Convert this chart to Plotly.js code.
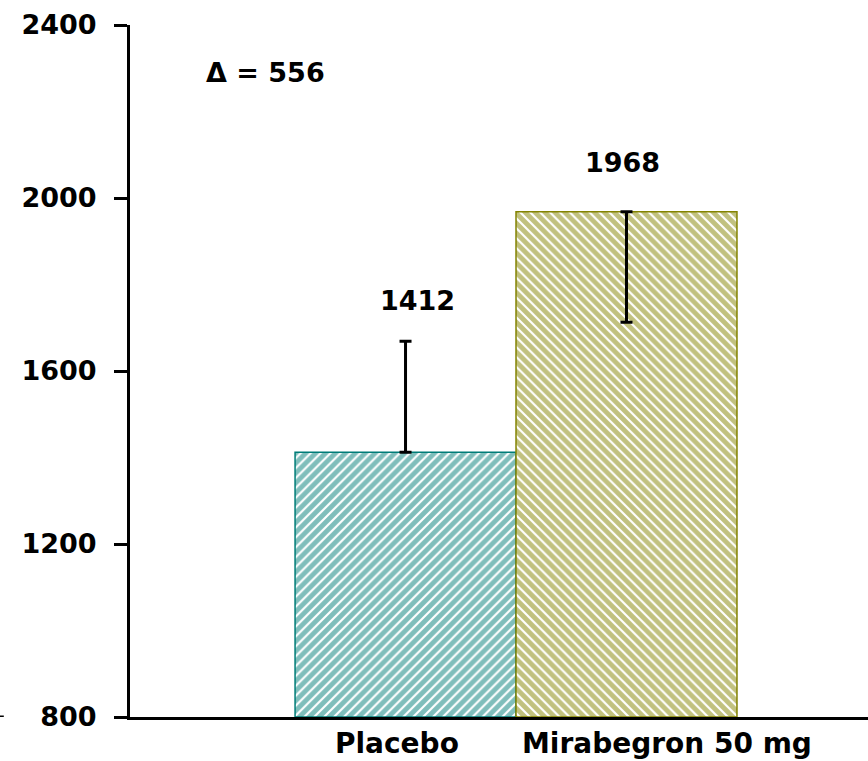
<!DOCTYPE html>
<html>
<head>
<meta charset="utf-8">
<script src="https://cdn.plot.ly/plotly-3.0.1.min.js"></script>
<style>html,body{margin:0;padding:0;background:#fff;}</style>
</head>
<body>
<div id="chart" style="width:868px;height:761px;"></div>
<script>
const categories = ["Placebo", "Mirabegron 50 mg"];
const values = [1412, 1968];
const errPlus = [257, 0];
const errMinus = [0, 255];
const yTicks = [800, 1200, 1600, 2000, 2400];

const FONT = "'DejaVu Sans', sans-serif";
const colors = ["#007d78", "#838300"];
const shapes = ["/", "\\"];

const traces = categories.map((c, i) => ({
  type: "bar",
  x: [i],
  y: [values[i] - 800],
  base: 800,
  width: 1,
  marker: {
    color: "#ffffff",
    line: {color: colors[i], width: 1.5},
    pattern: {shape: shapes[i], fgcolor: colors[i], bgcolor: "#ffffff", size: 7, solidity: 0.7, fillmode: "overlay"}
  },
  error_y: {type: "data", symmetric: false, array: [errPlus[i]], arrayminus: [errMinus[i]], color: "#000", thickness: 3, width: 6},
  hoverinfo: "none",
  showlegend: false
}));

const delta = values[1] - values[0];
const txt = (s) => ({family: FONT, size: s, color: "#000", weight: "bold"});

const layout = {
  width: 868, height: 761,
  margin: {l: 130, r: 0, t: 25, b: 44},
  paper_bgcolor: "#fff", plot_bgcolor: "#fff",
  font: txt(28),
  bargap: 0,
  xaxis: {
    range: [-1.247, 2.093],
    showticklabels: false,
    showline: true, linecolor: "#000", linewidth: 3,
    ticks: "", showgrid: false, zeroline: false
  },
  yaxis: {
    range: [800, 2400],
    tickvals: yTicks, ticktext: yTicks.map(String),
    showline: true, linecolor: "#000", linewidth: 3,
    ticks: "outside", ticklen: 13, tickwidth: 3, tickcolor: "#000",
    showgrid: false, zeroline: false,
    ticklabelstandoff: 12,
    tickfont: txt(27)
  },
  annotations: [
    {x: 0.054, y: 1764, xref: "x", yref: "y", xanchor: "center", yanchor: "middle",
     text: String(values[0]), showarrow: false, font: txt(27)},
    {x: 0.982, y: 2083, xref: "x", yref: "y", xanchor: "center", yanchor: "middle",
     text: String(values[1]), showarrow: false, font: txt(27)},
    {x: 0.183, y: 0.932, xref: "paper", yref: "paper", xanchor: "center", yanchor: "middle",
     text: "Δ = " + delta, showarrow: false, font: txt(27)},
    {x: 0.362, y: 0, xref: "paper", yref: "paper", xanchor: "center", yanchor: "middle", yshift: -26,
     text: categories[0], showarrow: false, font: txt(28)},
    {x: 0.728, y: 0, xref: "paper", yref: "paper", xanchor: "center", yanchor: "middle", yshift: -26,
     text: categories[1], showarrow: false, font: txt(28)}
  ],
  shapes: [
    {type: "line", xref: "paper", yref: "y", x0: -0.177, x1: -0.171, y0: 800, y1: 800, line: {color: "#000", width: 3}}
  ]
};

Plotly.newPlot("chart", traces, layout, {staticPlot: true, displayModeBar: false});
</script>
</body>
</html>
